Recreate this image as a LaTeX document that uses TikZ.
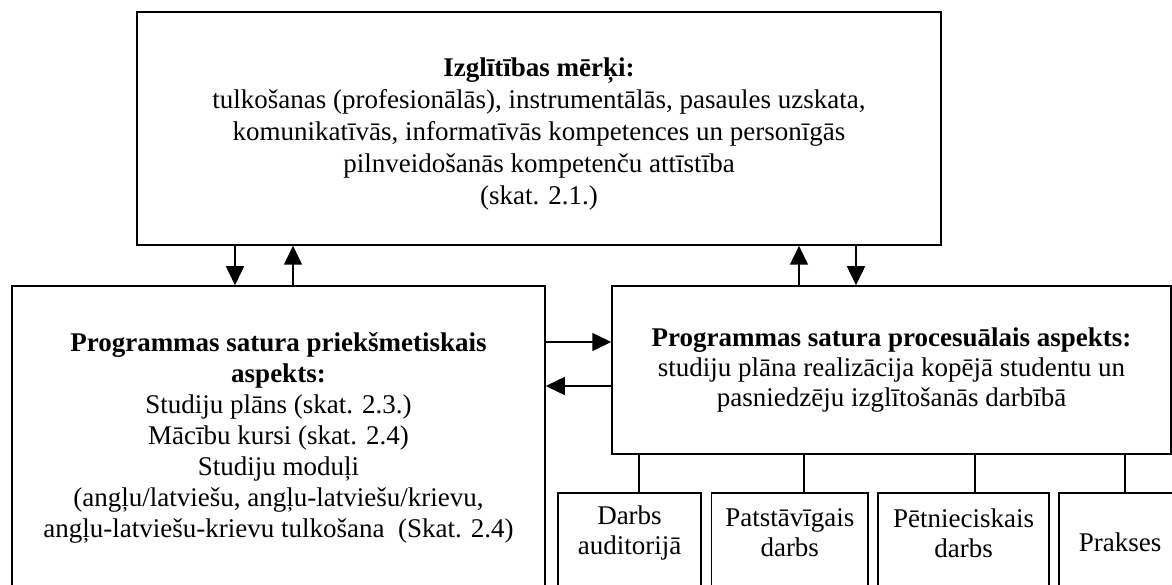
\documentclass[tikz,border=0pt]{standalone}
\usepackage{fontspec}
\setmainfont{Liberation Serif}
\usetikzlibrary{arrows.meta,calc}

\begin{document}
\begin{tikzpicture}[x=1pt, y=-1pt,
    box/.style={draw, line width=1.5pt, inner sep=0pt, align=center,
                font=\fontsize{27}{31}\selectfont},
    txt/.style={inner sep=0pt, align=center, font=\fontsize{27}{30}\selectfont},
    arr/.style={line width=1.5pt, -{Triangle[length=19pt,width=18pt]}},
    link/.style={line width=1.5pt}]
    \useasboundingbox (0,0) rectangle (1172,585);
    \clip (0,0) rectangle (1172,585);

    % Goals (top box)
    \node[box, minimum width=804pt, minimum height=233pt] (goals) at (539,128.5) {};
    \node[txt, font=\fontsize{27}{32}\selectfont] (goals-t) at ($(goals.center)+(0,6)$)
        {\textbf{Izglītības mērķi:}\\
         tulkošanas (profesionālās), instrumentālās, pasaules uzskata,\\
         komunikatīvās, informatīvās kompetences un personīgās\\
         pilnveidošanās kompetenču attīstība\\
         (skat. 2.1.)};

    % Subject aspect (left box)
    \node[box, minimum width=533pt, minimum height=304pt] (subj) at (278.5,438)
        {\textbf{Programmas satura priekšmetiskais}\\
         \textbf{aspekts:}\\
         Studiju plāns (skat. 2.3.)\\
         Mācību kursi (skat. 2.4)\\
         Studiju moduļi\\
         (angļu/latviešu, angļu-latviešu/krievu,\\
         angļu-latviešu-krievu tulkošana\ \ (Skat. 2.4)};

    % Process aspect (right box)
    \node[box, minimum width=559pt, minimum height=168pt,
          font=\fontsize{27}{30}\selectfont] (proc) at (891.5,370)
        {\textbf{Programmas satura procesuālais aspekts:}\\
         studiju plāna realizācija kopējā studentu un\\
         pasniedzēju izglītošanās darbībā};

    % Forms of work (bottom boxes, open below)
    \node[box, anchor=north, minimum width=143pt, minimum height=120pt] (darbs) at (629.5,492) {};
    \node[box, anchor=north, minimum width=156.5pt, minimum height=120pt] (patst) at (789.75,492) {};
    \node[box, anchor=north, minimum width=171pt, minimum height=120pt] (petn) at (963.5,492) {};
    \node[box, anchor=north, minimum width=122pt, minimum height=120pt] (prakses) at (1120,492) {};
    \node[txt] (darbs-t) at ($(darbs.north)+(0,41)$) {Darbs\\auditorijā};
    \node[txt] (patst-t) at ($(patst.north)+(0,41)$) {Patstāvīgais\\darbs};
    \node[txt] (petn-t) at ($(petn.north)+(0,41)$) {Pētnieciskais\\darbs};
    \node[txt] (prakses-t) at ($(prakses.north)+(0,50)$) {Prakses};

    % Arrows goals <-> aspects
    \draw[arr] (goals.south -| 235,0) -- (subj.north -| 235,0);
    \draw[arr] (subj.north -| 293,0) -- (goals.south -| 293,0);
    \draw[arr] (proc.north -| 799,0) -- (goals.south -| 799,0);
    \draw[arr] (goals.south -| 856,0) -- (proc.north -| 856,0);

    % Arrows between aspects
    \draw[arr] (subj.east |- 0,342) -- (proc.west |- 0,342);
    \draw[arr] (proc.west |- 0,386) -- (subj.east |- 0,386);

    % Links to forms of work
    \draw[link] (proc.south -| 639,0) -- (darbs.north -| 639,0);
    \draw[link] (proc.south -| 804,0) -- (patst.north -| 804,0);
    \draw[link] (proc.south -| 975,0) -- (petn.north -| 975,0);
    \draw[link] (proc.south -| 1125,0) -- (prakses.north -| 1125,0);
\end{tikzpicture}
\end{document}
